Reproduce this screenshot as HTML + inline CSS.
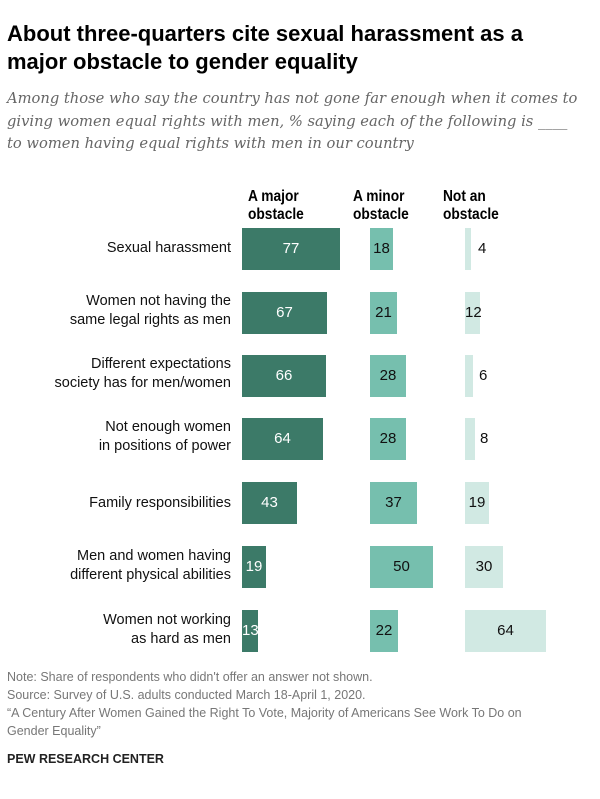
<!DOCTYPE html>
<html><head><meta charset="utf-8"><style>
body{margin:0;width:600px;height:799px;background:#fff;font-family:"Liberation Sans",sans-serif;position:relative;overflow:hidden}
.a{position:absolute;white-space:nowrap}
.t{left:7px;font-size:22px;font-weight:bold;color:#000;line-height:28px}
.s{left:7px;font-size:14.7px;font-style:italic;color:#666;line-height:22.5px;font-family:"DejaVu Serif",serif}
.h{font-size:16px;font-weight:bold;line-height:18px;transform:scaleX(0.86);transform-origin:left;color:#000}
.l{right:369px;text-align:right;font-size:14.5px;line-height:19px;color:#111}
.b{position:absolute;height:42px;font-size:15px;line-height:42px;text-align:center}
.M{background:#3c7a68;color:#fff}.m{background:#76bfae;color:#111}.n{background:#d1e9e3;color:#111}
.v{position:absolute;font-size:15px;line-height:42px;color:#111}
.f{left:7px;font-size:12.5px;color:#777;line-height:18px}
</style></head><body>
<div class="a t" style="top:20px">About three-quarters cite sexual harassment as a<br>major obstacle to gender equality</div>
<div class="a s" style="top:88px">Among those who say the country has not gone far enough when it comes to<br>giving women equal rights with men, % saying each of the following is ____<br>to women having equal rights with men in our country</div>
<div class="a h" style="left:248px;top:188px">A major<br>obstacle</div>
<div class="a h" style="left:353px;top:188px">A minor<br>obstacle</div>
<div class="a h" style="left:443px;top:188px">Not an<br>obstacle</div>

<div class="a l" style="top:239px">Sexual harassment</div>
<div class="b M" style="left:242px;top:228px;width:98px">77</div>
<div class="b m" style="left:370px;top:228px;width:23px">18</div>
<div class="b n" style="left:465px;top:228px;width:6px"></div><div class="v" style="left:478px;top:228px">4</div>

<div class="a l" style="top:292px">Women not having the<br>same legal rights as men</div>
<div class="b M" style="left:242px;top:292px;width:85px">67</div>
<div class="b m" style="left:370px;top:292px;width:27px">21</div>
<div class="b n" style="left:465px;top:292px;width:15px">12</div>

<div class="a l" style="top:355px">Different expectations<br>society has for men/women</div>
<div class="b M" style="left:242px;top:355px;width:84px">66</div>
<div class="b m" style="left:370px;top:355px;width:36px">28</div>
<div class="b n" style="left:465px;top:355px;width:8px"></div><div class="v" style="left:479px;top:355px">6</div>

<div class="a l" style="top:418px">Not enough women<br>in positions of power</div>
<div class="b M" style="left:242px;top:418px;width:81px">64</div>
<div class="b m" style="left:370px;top:418px;width:36px">28</div>
<div class="b n" style="left:465px;top:418px;width:10px"></div><div class="v" style="left:480px;top:418px">8</div>

<div class="a l" style="top:494px">Family responsibilities</div>
<div class="b M" style="left:242px;top:482px;width:55px">43</div>
<div class="b m" style="left:370px;top:482px;width:47px">37</div>
<div class="b n" style="left:465px;top:482px;width:24px">19</div>

<div class="a l" style="top:547px">Men and women having<br>different physical abilities</div>
<div class="b M" style="left:242px;top:546px;width:24px">19</div>
<div class="b m" style="left:370px;top:546px;width:63px">50</div>
<div class="b n" style="left:465px;top:546px;width:38px">30</div>

<div class="a l" style="top:611px">Women not working<br>as hard as men</div>
<div class="b M" style="left:242px;top:610px;width:16px">13</div>
<div class="b m" style="left:370px;top:610px;width:28px">22</div>
<div class="b n" style="left:465px;top:610px;width:81px">64</div>

<div class="a f" style="top:668px">Note: Share of respondents who didn't offer an answer not shown.<br>Source: Survey of U.S. adults conducted March 18-April 1, 2020.<br>“A Century After Women Gained the Right To Vote, Majority of Americans See Work To Do on<br>Gender Equality”</div>
<div class="a" style="left:7px;top:752px;font-size:12.5px;font-weight:bold;color:#222">PEW RESEARCH CENTER</div>
</body></html>
